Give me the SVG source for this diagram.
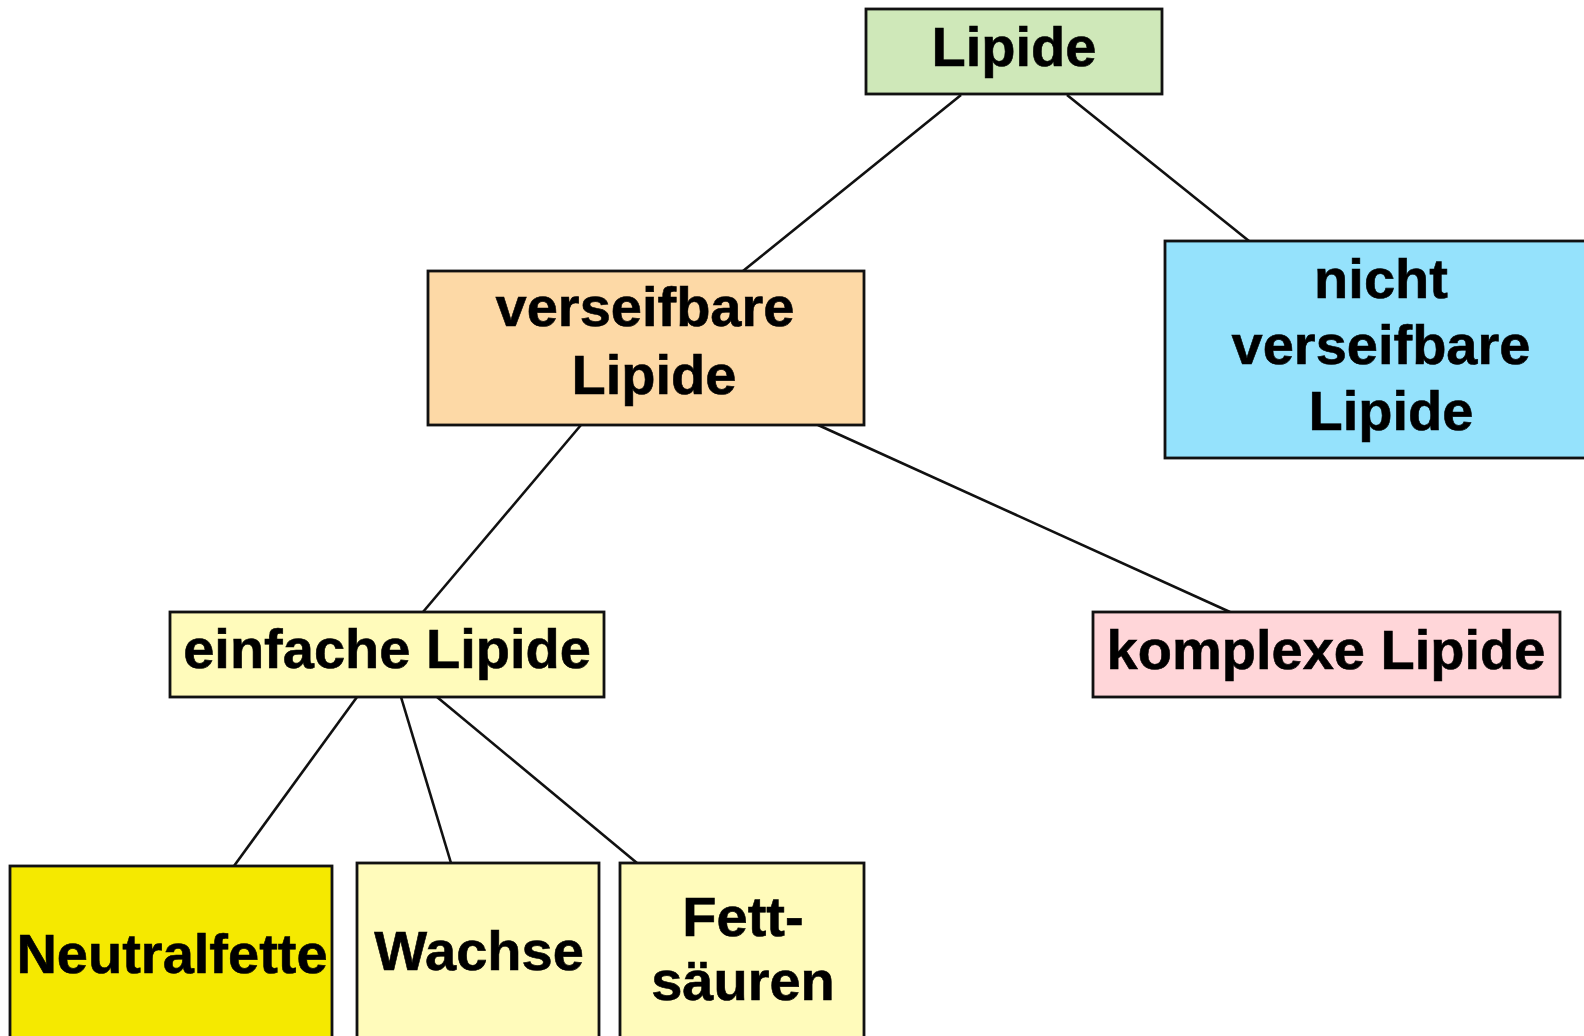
<svg xmlns="http://www.w3.org/2000/svg" width="1584" height="1036" viewBox="0 0 1584 1036">
<style>
.box{stroke:#111;stroke-width:2.8}
.t{font-family:"Liberation Sans",Arial,Helvetica,sans-serif;font-weight:bold;font-size:56px;fill:#000;stroke:#000;stroke-width:0.6;text-anchor:middle}
.c{stroke:#111;stroke-width:2.6;fill:none}
</style>
<rect width="1584" height="1036" fill="#fff"/>
<g id="connectors">
<line class="c" x1="961" y1="95" x2="743" y2="271"/>
<line class="c" x1="1067" y1="95" x2="1249" y2="241"/>
<line class="c" x1="581" y1="425" x2="423" y2="612"/>
<line class="c" x1="818" y1="425" x2="1230" y2="612"/>
<line class="c" x1="357" y1="697" x2="234" y2="866"/>
<line class="c" x1="401" y1="697" x2="451" y2="863"/>
<line class="c" x1="437" y1="697" x2="637" y2="863"/>
</g>
<g id="lipide">
<rect class="box" x="866" y="9" width="296" height="85" fill="#cfe8b9"/>
<text class="t" x="1014" y="66">Lipide</text>
</g>
<g id="verseifbare">
<rect class="box" x="428" y="271" width="436" height="154" fill="#fdd9a6"/>
<text class="t" x="645" y="326">verseifbare</text>
<text class="t" x="654" y="394">Lipide</text>
</g>
<g id="nicht-verseifbare">
<rect class="box" x="1165" y="241" width="430" height="217" fill="#95e2fc"/>
<text class="t" x="1381" y="298">nicht</text>
<text class="t" x="1381" y="364">verseifbare</text>
<text class="t" x="1391" y="430">Lipide</text>
</g>
<g id="einfache">
<rect class="box" x="170" y="612" width="434" height="85" fill="#fffbbb"/>
<text class="t" x="387" y="668">einfache Lipide</text>
</g>
<g id="komplexe">
<rect class="box" x="1093" y="612" width="467" height="85" fill="#ffd6d9"/>
<text class="t" x="1326" y="669">komplexe Lipide</text>
</g>
<g id="neutralfette">
<rect class="box" x="10" y="866" width="322" height="180" fill="#f5e900"/>
<text class="t" x="172" y="973">Neutralfette</text>
</g>
<g id="wachse">
<rect class="box" x="357" y="863" width="242" height="183" fill="#fffbbb"/>
<text class="t" x="479" y="970">Wachse</text>
</g>
<g id="fettsaeuren">
<rect class="box" x="620" y="863" width="244" height="183" fill="#fffbbb"/>
<text class="t" x="743" y="936">Fett-</text>
<text class="t" x="743" y="1000">säuren</text>
</g>
</svg>
